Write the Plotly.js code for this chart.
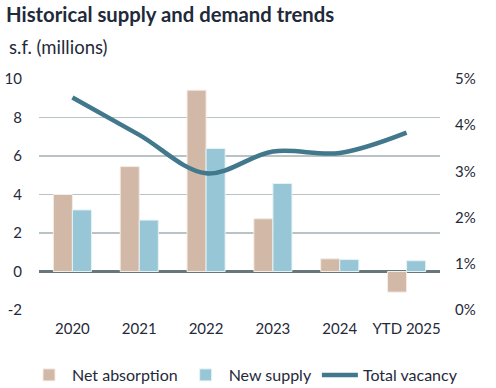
<!DOCTYPE html>
<html><head><meta charset="utf-8">
<script src="https://cdn.plot.ly/plotly-3.0.1.min.js"></script>
<style>html,body{margin:0;padding:0;background:#fff}#chart{width:496px;height:388px}</style>
</head><body><div id="chart"></div>
<script>
const categories = ["2020","2021","2022","2023","2024","YTD 2025"];
const netAbsorption = [4.0, 5.45, 9.42, 2.74, 0.66, -1.07];
const newSupply = [3.2, 2.67, 6.39, 4.57, 0.62, 0.56];
const totalVacancy = [4.6, 3.79, 2.96, 3.43, 3.40, 3.84];
const leftTickVals = [-2, 0, 2, 4, 6, 8, 10];
const leftTickText = ["-2", "0", "2", "4", "6", "8", "10"];

const fontFam = "Lato, 'Noto Sans', sans-serif";
const textCol = "#1f2a3a";
const data = [
  {type:"bar", name:"Net absorption", x:categories, y:netAbsorption,
   marker:{color:"#D2B8A6", line:{color:"#f4ece6", width:1}}},
  {type:"bar", name:"New supply", x:categories, y:newSupply,
   marker:{color:"#97C6D6", line:{color:"#e6f2f6", width:1}}},
  {type:"scatter", mode:"lines", name:"Total vacancy", x:categories, y:totalVacancy,
   yaxis:"y2", line:{color:"#41788C", width:4.5, shape:"spline", smoothing:1}}
];
const layout = {
  width:496, height:388,
  margin:{l:39, r:56, t:79, b:78, autoexpand:false},
  paper_bgcolor:"#fff", plot_bgcolor:"#fff",
  font:{family:fontFam, color:textCol, size:15},
  barmode:"group", bargap:0.43, bargroupgap:0,
  showlegend:true,
  legend:{orientation:"h", x:-13/401, xanchor:"left",
          y:-65/231, yanchor:"middle",
          font:{size:16, color:textCol}, traceorder:"normal", itemwidth:36, tracegroupgap:0},
  xaxis:{type:"category", showgrid:false, zeroline:false, showline:false,
         ticks:"", tickfont:{size:15}, ticklabelstandoff:8},
  yaxis:{range:[-2,10], tickvals:leftTickVals, ticktext:leftTickText,
         showgrid:true, gridcolor:"#B9C2C4", gridwidth:1.3,
         zeroline:true, zerolinecolor:"#67777B", zerolinewidth:2.5,
         ticks:"", tickfont:{size:15}, ticklabelstandoff:16},
  yaxis2:{range:[0,5], dtick:1, overlaying:"y", side:"right", showgrid:false, zeroline:false,
          ticksuffix:"%", ticks:"", tickfont:{size:15}, ticklabelstandoff:14},
  annotations:[
    {text:"<b>Historical supply and demand trends</b>", xref:"paper", yref:"paper",
     x:-39/401, xanchor:"left", y:1+65/231, yanchor:"middle", showarrow:false,
     font:{size:20.3, color:textCol, family:fontFam}, xshift:4},
    {text:"s.f. (millions)", xref:"paper", yref:"paper",
     x:-39/401, xanchor:"left", y:1+32/231, yanchor:"middle", showarrow:false,
     font:{size:18.5, color:textCol, family:fontFam}, xshift:7}
  ]
};
Plotly.newPlot("chart", data, layout, {displayModeBar:false, staticPlot:true});
</script></body></html>
